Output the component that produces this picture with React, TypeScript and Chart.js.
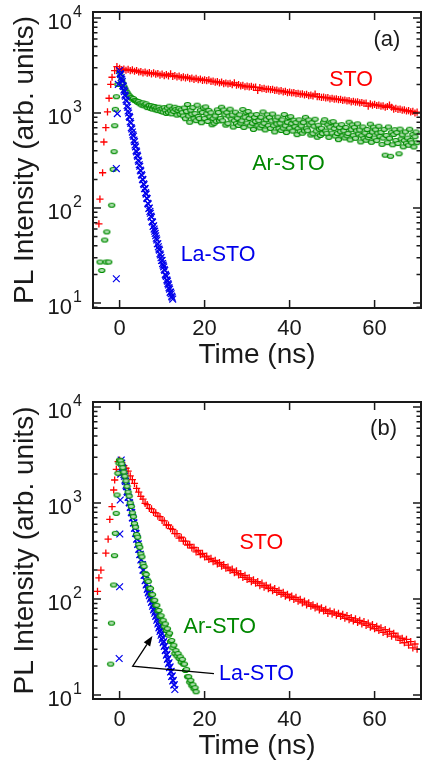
import { useEffect, useRef } from "react";
import { Chart, registerables } from "chart.js";
Chart.register(...registerables);

// ---------- axis ticks ----------
const xTickValues = [0, 20, 40, 60];
const yDecadeExps = [1, 2, 3, 4];
const yMinorMults = [2, 3, 4, 5, 6, 7, 8, 9];
const xTitle = "Time (ns)";
const yTitle = "PL Intensity (arb. units)";

// ---------- panel (a) ----------
const stoA_riseT = [-4.87, -4.63, -4.0, -3.7, -3.24, -2.85, -2.48, -2.09, -1.78, -1.16, -0.63];
const stoA_riseI = [68, 124, 235, 495, 700, 1030, 1430, 2000, 2380, 2790, 3070];
const stoA_start = 0, stoA_step = 0.5;
const stoA_I = [
  2950, 2870, 2900, 2820, 2880, 2790, 2840, 2750, 2800, 2700, 2720,
  2640, 2700, 2620, 2660, 2580, 2640, 2560, 2600, 2510, 2560,
  2480, 2540, 2460, 2580, 2430, 2470, 2400, 2450, 2360, 2400,
  2340, 2380, 2300, 2330, 2260, 2310, 2240, 2280, 2200, 2230,
  2190, 2230, 2150, 2170, 2110, 2140, 2080, 2110, 2040, 2070,
  2030, 2050, 1990, 2080, 1960, 1990, 1930, 1950, 1890, 1920,
  1880, 1910, 1860, 1870, 1730, 1850, 1800, 1820, 1770, 1790,
  1760, 1770, 1730, 1740, 1700, 1720, 1670, 1690, 1640, 1660,
  1630, 1640, 1600, 1610, 1580, 1590, 1550, 1570, 1520, 1540,
  1510, 1580, 1490, 1490, 1460, 1470, 1440, 1450, 1410, 1430,
  1400, 1410, 1380, 1390, 1360, 1370, 1340, 1350, 1310, 1330,
  1300, 1310, 1280, 1290, 1260, 1270, 1180, 1250, 1210, 1230,
  1200, 1210, 1180, 1190, 1150, 1170, 1210, 1150, 1100, 1120,
  1090, 1100, 1070, 1080, 1050, 1060, 1030, 1040, 1000, 1020,
];

const arA_riseT = [-4.6, -4.2, -3.5, -3.2, -3.0, -2.55, -1.85, -1.5, -1.3, -1.15, -1.0, -0.75, -0.4];
const arA_riseI = [27, 22, 46, 27, 56, 27, 107, 255, 392, 735, 1093, 1484, 2000];
const arA_start = 0, arA_step = 0.25;
const arA_I = [
  2750, 2450, 2200, 2050, 1900, 1800, 1700, 1640, 1560,
  1520, 1470, 1450, 1400, 1420, 1360, 1350, 1330,
  1290, 1320, 1250, 1270, 1210, 1280, 1190, 1230,
  1250, 1140, 1190, 1200, 1120, 1190, 1100, 1160,
  1170, 1080, 1140, 1060, 1150, 1090, 1040, 1110,
  1020, 1140, 1070, 990, 1130, 1010, 1180, 1050,
  980, 1100, 1040, 1150, 1090, 950, 1060, 1120,
  970, 1080, 1010, 930, 1130, 870, 1040, 1230,
  930, 800, 1070, 970, 1140, 870, 985, 830,
  1210, 920, 875, 1070, 790, 1010, 1130, 875,
  1160, 980, 815, 1065, 912, 1006, 752, 874,
  781, 930, 818, 1079, 1012, 828, 874, 1150,
  828, 1074, 956, 746, 1008, 774, 927, 1098,
  863, 952, 712, 828, 1021, 774, 880, 739,
  957, 783, 827, 1088, 705, 903, 1015, 783,
  1037, 876, 731, 952, 781, 672, 899, 815,
  963, 730, 830, 697, 902, 738, 1025, 779,
  664, 851, 956, 737, 896, 688, 824, 976,
  735, 632, 845, 766, 905, 686, 780, 655,
  847, 693, 963, 732, 623, 798, 897, 692,
  915, 773, 645, 840, 718, 792, 592, 688,
  847, 642, 730, 613, 792, 648, 900, 684,
  651, 844, 751, 586, 790, 606, 726, 860,
  646, 556, 744, 674, 580, 690, 607, 800,
  850, 646, 612, 748, 554, 709, 797, 614,
  811, 685, 572, 745, 609, 524, 701, 635,
  754, 572, 650, 546, 704, 576, 608, 800,
  521, 667, 749, 578, 706, 542, 649, 769,
  601, 663, 496, 577, 713, 541, 615, 517,
  671, 549, 580, 763, 492, 630, 708, 546,
  666, 512, 613, 726, 567, 626, 468, 544,
  673, 360, 580, 487, 713, 542, 350, 627,
  463, 593, 667, 514, 622, 477, 372, 677,
  534, 589, 440, 512, 632, 480, 545, 458,
  675, 513, 486, 594, 439, 562, 631, 487,
];

const laA_riseT = [-0.77, -0.77, -0.54, -0.3];
const laA_riseI = [18, 260, 985, 2000];
const laA_start = 0, laA_step = 0.125;
const laA_I = [
  2800, 2600, 2550, 2350, 2250, 2150, 1950, 1900, 1750,
  1680, 1550, 1500, 1380, 1330, 1200, 1150, 1050,
  1000, 920, 900, 810, 780, 700, 680, 630,
  590, 570, 520, 500, 460, 440, 400, 390,
  360, 350, 320, 310, 285, 275, 250, 245,
  225, 220, 200, 198, 180, 176, 160, 160,
  145, 140, 127, 125, 112, 110, 99, 100,
  92, 88, 82, 80, 72, 71, 64, 65,
  60, 57, 54, 51, 48, 46, 42, 42,
  39, 37, 36, 33, 32, 30, 28, 28,
  26, 25, 24, 22.5, 22, 20, 19.5, 19,
  17.5, 17, 16, 15.5, 14.5, 14, 13, 13,
  12.5, 11.8, 11.5, 11,
];

// ---------- panel (b) ----------
const stoB_riseT = [-5.2, -4.87, -4.4, -3.24, -2.7, -2.3, -1.78, -1.39, -1.16, -0.77, -0.35];
const stoB_riseI = [120, 166, 200, 300, 420, 676, 915, 1366, 1736, 2245, 2700];
const stoB_start = 0, stoB_step = 0.5;
const stoB_I = [
  2800, 2650, 2450, 2300, 2150, 1920, 1750, 1600, 1420, 1300, 1170,
  1100, 990, 960, 880, 870, 800, 790, 730, 720, 660,
  650, 590, 590, 540, 530, 480, 480, 430, 440, 400,
  400, 365, 370, 340, 345, 310, 320, 290, 298, 275,
  280, 258, 265, 245, 252, 232, 240, 220, 228, 210,
  215, 198, 205, 188, 196, 178, 184, 168, 176, 160,
  166, 152, 158, 146, 152, 138, 146, 133, 139, 128,
  133, 122, 128, 117, 123, 112, 117, 107, 112, 103,
  107, 99, 104, 95, 99, 91, 95, 87, 91, 84,
  87, 81, 84, 77, 81, 75, 78, 71, 75, 70,
  73, 68, 71, 66, 69, 63, 67, 61, 64, 59,
  62, 57, 60, 55, 58, 53, 56, 51, 54, 49,
  52, 47, 50, 45, 48, 43, 46, 41, 44, 40,
  41, 37, 39, 35, 38, 33, 36, 31, 34, 30,
];

const arB_riseT = [-2.1, -1.9, -1.4, -1.2, -1.0, -0.8, -0.6, -0.4, -0.15, 0];
const arB_riseI = [21, 56, 140, 283, 483, 780, 1212, 2040, 2600, 2800];
const arB_start = 0.25, arB_step = 0.25;
const arB_I = [
  2750, 2550, 2330, 2100, 1900, 1700, 1490, 1300,
  1180, 1000, 920, 790, 720, 610, 560, 470,
  440, 370, 345, 295, 275, 232, 218, 185,
  180, 158, 152, 130, 129, 112, 111, 97,
  97, 86, 86, 75, 76, 66, 67, 58,
  60, 52, 55, 47, 49, 42, 44, 36,
  37, 31, 33, 27, 29, 25.5, 27, 24,
  25, 22, 23.5, 21, 21, 18, 18.5, 15.5,
  15.5, 13.6, 14.2, 12.5, 12.8, 11.6, 11.9, 10.8,
];

const laB_riseT = [-0.1, 0, 0.05, 0.15, 0.25, 0.375];
const laB_riseI = [24, 134, 475, 1075, 2000, 2800];
const laB_start = 0.5, laB_step = 0.125;
const laB_I = [
  2600, 2350, 2300, 2100, 1980, 1900, 1730, 1680, 1530,
  1480, 1320, 1290, 1150, 1140, 1010, 1000, 900,
  900, 800, 790, 700, 700, 620, 620, 545,
  545, 485, 480, 420, 425, 370, 375, 330,
  330, 290, 292, 255, 258, 228, 228, 200,
  200, 177, 177, 155, 157, 140, 142, 126,
  129, 116, 120, 108, 112, 100, 103, 92,
  94, 84, 87, 77, 80, 71, 74, 66,
  67, 60, 62, 55, 57, 50, 52, 46,
  48, 42, 44, 38, 40, 35, 36, 32,
  32.5, 29, 29.5, 26, 26.5, 23.5, 24, 21.2,
  21.7, 19.3, 19.6, 17.4, 17.6, 15.6, 15.8, 14,
  14.2, 12.7, 12.8, 11.4,
];

// ---------- styles ----------
const FONT = '"Liberation Sans", Arial, Helvetica, sans-serif';
const INK = "#1a1a1a";
const RED = "rgb(255,0,0)";
const GREEN = "rgb(0,135,0)";
const BLUE = "rgb(0,0,235)";
const X_MIN = -6.26;
const X_MAX = 70.92;

function toPoints(riseT: number[], riseI: number[], start: number, step: number, vals: number[]) {
  const pts = riseT.map((t, i) => ({ x: t, y: riseI[i] }));
  vals.forEach((v, i) => pts.push({ x: start + i * step, y: v }));
  return pts;
}

function makeOval() {
  const c = document.createElement("canvas");
  c.width = 9;
  c.height = 7;
  const g = c.getContext("2d")!;
  g.beginPath();
  g.ellipse(4.5, 3.5, 3.1, 2.0, 0, 0, Math.PI * 2);
  g.fillStyle = "rgb(175,222,175)";
  g.fill();
  g.lineWidth = 1.2;
  g.strokeStyle = "rgb(0,140,0)";
  g.stroke();
  return c;
}

type Label = { text: string; x: number; y: number; color: string; size: number };
type Arrow = { from: [number, number]; tip: [number, number]; tail: [number, number] } | null;

function decorPlugin(labels: Label[], arrow: Arrow) {
  return {
    id: "decor",
    afterDatasetsDraw(chart: any) {
      const { ctx, chartArea: a } = chart;
      const xs = chart.scales.x;
      const ys = chart.scales.y;
      ctx.save();
      ctx.strokeStyle = INK;
      ctx.lineWidth = 1.5;
      ctx.beginPath();
      for (const v of xTickValues) {
        const p = xs.getPixelForValue(v);
        ctx.moveTo(p, a.bottom);
        ctx.lineTo(p, a.bottom - 8);
        ctx.moveTo(p, a.top);
        ctx.lineTo(p, a.top + 8);
      }
      for (let d = 0; d <= 4; d++) {
        const base = Math.pow(10, d);
        if (base >= ys.min && base <= ys.max) {
          const p = ys.getPixelForValue(base);
          ctx.moveTo(a.left, p);
          ctx.lineTo(a.left + 8, p);
          ctx.moveTo(a.right, p);
          ctx.lineTo(a.right - 8, p);
        }
        for (const m of yMinorMults) {
          const v = m * base;
          if (v < ys.min || v > ys.max) continue;
          const p = ys.getPixelForValue(v);
          ctx.moveTo(a.left, p);
          ctx.lineTo(a.left + 4.5, p);
          ctx.moveTo(a.right, p);
          ctx.lineTo(a.right - 4.5, p);
        }
      }
      ctx.stroke();
      ctx.lineWidth = 2;
      ctx.strokeRect(a.left, a.top, a.right - a.left, a.bottom - a.top);

      ctx.fillStyle = INK;
      ctx.textBaseline = "alphabetic";
      ctx.font = `22px ${FONT}`;
      ctx.textAlign = "center";
      for (const v of xTickValues) {
        ctx.fillText(String(v), xs.getPixelForValue(v), a.bottom + 27);
      }
      for (const e of yDecadeExps) {
        const p = ys.getPixelForValue(Math.pow(10, e));
        ctx.font = `22px ${FONT}`;
        ctx.textAlign = "right";
        ctx.fillText("10", a.left - 21, p + 11);
        ctx.font = `16px ${FONT}`;
        ctx.textAlign = "left";
        ctx.fillText(String(e), a.left - 20, p - 1.3);
      }
      ctx.font = `28px ${FONT}`;
      ctx.textAlign = "center";
      ctx.fillText(xTitle, (a.left + a.right) / 2, a.bottom + 55);
      ctx.save();
      ctx.translate(33, (a.top + a.bottom) / 2);
      ctx.rotate(-Math.PI / 2);
      ctx.fillText(yTitle, 0, 0);
      ctx.restore();

      for (const l of labels) {
        ctx.font = `${l.size}px ${FONT}`;
        ctx.fillStyle = l.color;
        ctx.textAlign = "center";
        ctx.fillText(l.text, xs.getPixelForValue(l.x), ys.getPixelForValue(l.y));
      }
      if (arrow) {
        const px = (p: [number, number]) => [xs.getPixelForValue(p[0]), ys.getPixelForValue(p[1])];
        const [fx, fy] = px(arrow.from);
        const [tx, ty] = px(arrow.tip);
        const [ex, ey] = px(arrow.tail);
        ctx.strokeStyle = "#000";
        ctx.fillStyle = "#000";
        ctx.lineWidth = 1.3;
        const ang = Math.atan2(ty - fy, tx - fx);
        const len = 10, hw = 3.8;
        const bx = tx - Math.cos(ang) * len, by = ty - Math.sin(ang) * len;
        ctx.beginPath();
        ctx.moveTo(ex, ey);
        ctx.lineTo(fx, fy);
        ctx.lineTo(bx, by);
        ctx.stroke();
        ctx.beginPath();
        ctx.moveTo(tx, ty);
        ctx.lineTo(bx + Math.sin(ang) * hw, by - Math.cos(ang) * hw);
        ctx.lineTo(bx - Math.sin(ang) * hw, by + Math.cos(ang) * hw);
        ctx.closePath();
        ctx.fill();
      }
      ctx.restore();
    },
  };
}

function redSet(pts: any[]) {
  return { label: "STO", data: pts, pointStyle: "cross", pointRadius: 3.6, borderColor: RED, backgroundColor: RED, pointBorderWidth: 1.3, showLine: false };
}
function blueSet(pts: any[]) {
  return { label: "La-STO", data: pts, pointStyle: "crossRot", pointRadius: 4.8, borderColor: BLUE, backgroundColor: BLUE, pointBorderWidth: 1.2, showLine: false };
}
function greenSet(pts: any[], oval: HTMLCanvasElement) {
  return { label: "Ar-STO", data: pts, pointStyle: oval, pointRadius: 3.5, borderColor: GREEN, backgroundColor: GREEN, showLine: false };
}

function makeChart(canvas: HTMLCanvasElement, datasets: any[], padding: any, yMin: number, yMax: number, labels: Label[], arrow: Arrow) {
  return new Chart(canvas, {
    type: "scatter",
    data: { datasets },
    options: {
      animation: false,
      responsive: false,
      devicePixelRatio: 1,
      events: [],
      layout: { padding },
      plugins: { legend: { display: false }, tooltip: { enabled: false } },
      scales: {
        x: { type: "linear", min: X_MIN, max: X_MAX, display: false },
        y: { type: "logarithmic", min: yMin, max: yMax, display: false },
      },
    },
    plugins: [decorPlugin(labels, arrow)],
  } as any);
}

export default function App() {
  const refA = useRef<HTMLCanvasElement>(null);
  const refB = useRef<HTMLCanvasElement>(null);
  useEffect(() => {
    const oval = makeOval();
    const dsA = [
      blueSet(toPoints(laA_riseT, laA_riseI, laA_start, laA_step, laA_I)),
      redSet(toPoints(stoA_riseT, stoA_riseI, stoA_start, stoA_step, stoA_I)),
      greenSet(toPoints(arA_riseT, arA_riseI, arA_start, arA_step, arA_I), oval),
    ];
    const dsB = [
      greenSet(toPoints(arB_riseT, arB_riseI, arB_start, arB_step, arB_I), oval),
      blueSet(toPoints(laB_riseT, laB_riseI, laB_start, laB_step, laB_I)),
      redSet(toPoints(stoB_riseT, stoB_riseI, stoB_start, stoB_step, stoB_I)),
    ];
    const labelsA: Label[] = [
      { text: "(a)", x: 62.9, y: 5134, color: INK, size: 22 },
      { text: "STO", x: 54.46, y: 1938, color: RED, size: 21.5 },
      { text: "Ar-STO", x: 39.74, y: 253, color: GREEN, size: 21.5 },
      { text: "La-STO", x: 23.17, y: 27.9, color: BLUE, size: 21.5 },
    ];
    const labelsB: Label[] = [
      { text: "(b)", x: 62.1, y: 5170, color: INK, size: 22 },
      { text: "STO", x: 33.37, y: 329, color: RED, size: 21.5 },
      { text: "Ar-STO", x: 23.57, y: 44.6, color: GREEN, size: 21.5 },
      { text: "La-STO", x: 32.2, y: 14.5, color: BLUE, size: 21.5 },
    ];
    const arrowB: Arrow = { from: [3.08, 20], tip: [7.72, 41.2], tail: [22.2, 16.7] };
    const cA = makeChart(refA.current!, dsA, { left: 93, top: 12, right: 1, bottom: 75 }, 8.857, 11566, labelsA, null);
    const cB = makeChart(refB.current!, dsB, { left: 93, top: 19, right: 1, bottom: 67 }, 9.085, 11274, labelsB, arrowB);
    return () => {
      cA.destroy();
      cB.destroy();
    };
  }, []);
  return (
    <div style={{ position: "absolute", left: 0, top: 0, width: 427, height: 766, background: "#fff" }}>
      <canvas ref={refA} width={427} height={383} style={{ display: "block", width: 427, height: 383 }} />
      <canvas ref={refB} width={427} height={383} style={{ display: "block", width: 427, height: 383 }} />
    </div>
  );
}
